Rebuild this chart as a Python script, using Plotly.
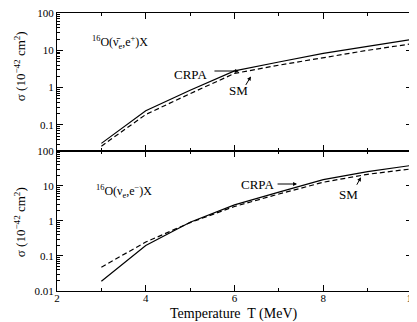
import plotly.graph_objects as go
from plotly.subplots import make_subplots

T = [3, 4, 5, 6, 7, 8, 9, 10]
# 16O(anti-nu_e, e+)X
anu_crpa = [0.032, 0.24, 0.85, 2.8, 4.85, 8.3, 12.8, 19.7]
anu_sm = [0.027, 0.19, 0.69, 2.4, 4.0, 6.3, 10.0, 15.0]
# 16O(nu_e, e-)X
nu_crpa = [0.019, 0.2, 0.92, 2.9, 6.7, 15.2, 25.6, 39.0]
nu_sm = [0.048, 0.25, 0.9, 2.6, 5.9, 12.8, 21.6, 31.0]

xticks = [2, 4, 6, 8, 10]
FONT = "Liberation Serif"

fig = make_subplots(rows=2, cols=1, shared_xaxes=True, vertical_spacing=0,
                    row_heights=[0.4964, 0.5036])

solid = dict(color="black", width=1.2)
dashed = dict(color="black", width=1.2, dash="5px,3px")
fig.add_trace(go.Scatter(x=T, y=anu_crpa, mode="lines", line=solid), row=1, col=1)
fig.add_trace(go.Scatter(x=T, y=anu_sm, mode="lines", line=dashed), row=1, col=1)
fig.add_trace(go.Scatter(x=T, y=nu_crpa, mode="lines", line=solid), row=2, col=1)
fig.add_trace(go.Scatter(x=T, y=nu_sm, mode="lines", line=dashed), row=2, col=1)

axcommon = dict(showline=True, linecolor="black", linewidth=1, mirror="allticks",
                ticks="inside", tickcolor="black", showgrid=False, zeroline=False,
                automargin=False, ticklabeloverflow="allow",
                tickfont=dict(family=FONT, size=11, color="black"))

fig.update_xaxes(range=[1.9999, 10.0001], tickvals=xticks, ticklen=6, ticklabelstandoff=-3,
                 minor=dict(ticks="inside", dtick=1, ticklen=3, tickcolor="black"),
                 **axcommon)
fig.update_xaxes(showticklabels=False, row=1, col=1)

fig.update_yaxes(type="log", ticklen=6, dtick=1,
                 minor=dict(ticks="inside", dtick="D1", ticklen=3, tickcolor="black"),
                 **axcommon)
fig.update_yaxes(range=[-1.699, 2], tickvals=[0.1, 1, 10, 100], ticktext=["0.1", "1", "10", "100"],
                 row=1, col=1)
fig.update_yaxes(range=[-2, 2], tickvals=[0.01, 0.1, 1, 10, 100],
                 ticktext=["0.01", "0.1", "1", "10", "100"], row=2, col=1)

tf = dict(family=FONT, size=12, color="black")
lf = dict(family=FONT, size=13, color="black")
c = dict(xanchor="center", yanchor="middle", showarrow=False)
ann = []
ytitle = "σ (10<sup>−42</sup> cm<sup>2</sup>)"
ann.append(dict(text=ytitle, xref="paper", yref="paper", x=-0.104, y=0.809, textangle=-90,
                font=lf, **c))
ann.append(dict(text=ytitle, xref="paper", yref="paper", x=-0.104, y=0.248, textangle=-90,
                font=lf, **c))
ann.append(dict(text="Temperature  T (MeV)", xref="paper", yref="paper", x=0.4986, y=-0.083,
                font=dict(family=FONT, size=14, color="black"), **c))
ann.append(dict(text="<sup>16</sup>O(ν̄<sub>e</sub>,e<sup>+</sup>)X", xref="x", yref="y",
                x=3.42, y=1.2, font=tf, **c))
ann.append(dict(text="<sup>16</sup>O(ν<sub>e</sub>,e<sup>−</sup>)X", xref="x2", yref="y2",
                x=3.5, y=0.85, font=tf, **c))
# top labels
ann.append(dict(text="CRPA", xref="x", yref="y", x=5.0, y=0.365, font=lf, **c))
ann.append(dict(text="", xref="x", yref="y", x=6.1, y=0.445, ax=-26, ay=0, showarrow=True,
                arrowhead=2, arrowsize=0.8, arrowwidth=1, arrowcolor="black"))
ann.append(dict(text="SM", xref="x", yref="y", x=6.1, y=-0.064, font=lf, **c))
ann.append(dict(text="", xref="x", yref="y", x=6.37, y=0.3, ax=-6, ay=10, showarrow=True,
                arrowhead=2, arrowsize=0.8, arrowwidth=1, arrowcolor="black"))
# bottom labels
ann.append(dict(text="CRPA", xref="x2", yref="y2", x=6.51, y=1.057, font=lf, **c))
ann.append(dict(text="", xref="x2", yref="y2", x=7.41, y=1.057, ax=-21, ay=0, showarrow=True,
                arrowhead=2, arrowsize=0.8, arrowwidth=1, arrowcolor="black"))
ann.append(dict(text="SM", xref="x2", yref="y2", x=8.58, y=0.771, font=lf, **c))
ann.append(dict(text="", xref="x2", yref="y2", x=8.85, y=1.25, ax=-5, ay=9, showarrow=True,
                arrowhead=2, arrowsize=0.8, arrowwidth=1, arrowcolor="black"))

# page body has an 8px default margin; size the figure so the plot lands where the reference has it
fig.update_layout(width=409, height=314, margin=dict(l=49, r=5, t=5, b=31),
                  plot_bgcolor="white", paper_bgcolor="white", showlegend=False,
                  annotations=ann, font=dict(family=FONT, color="black"))

fig.write_html("out.html")
